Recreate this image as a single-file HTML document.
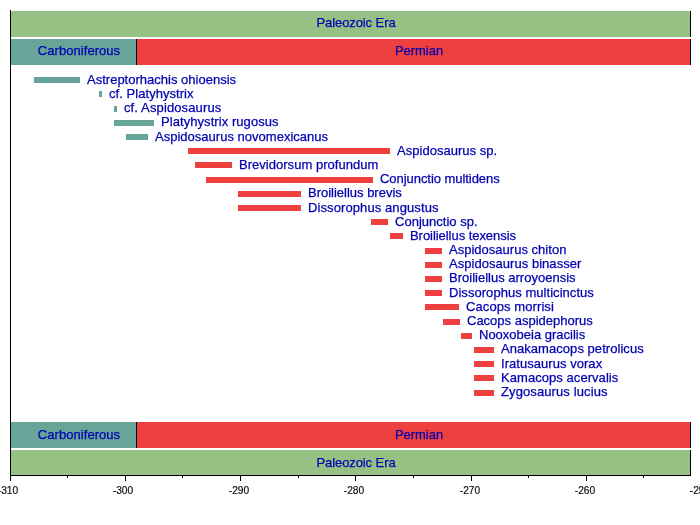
<!DOCTYPE html>
<html><head><meta charset="utf-8"><title>Timeline</title>
<style>
html,body{margin:0;padding:0;background:#fff;}
body{width:700px;height:525px;position:relative;overflow:hidden;font-family:"Liberation Sans",sans-serif;}
.b{position:absolute;}
.t{position:absolute;white-space:nowrap;font-size:13px;line-height:15px;color:#0000B2;letter-spacing:0.05px;will-change:transform;-webkit-text-stroke:0.25px #0000B2;}
.a{position:absolute;white-space:nowrap;font-size:10.2px;line-height:12px;color:#111;will-change:transform;-webkit-text-stroke:0.2px #111;}
.k{position:absolute;background:#000;}
</style></head><body>
<div class="b" style="left:11px;top:11px;width:679px;height:26px;background:#97C085"></div>
<div class="k" style="left:690px;top:11px;width:1px;height:26px"></div>
<div class="b" style="left:11px;top:450px;width:679px;height:25px;background:#97C085"></div>
<div class="k" style="left:690px;top:450px;width:1px;height:25px"></div>
<div class="b" style="left:11px;top:39px;width:125px;height:26px;background:#67A599"></div>
<div class="b" style="left:137px;top:39px;width:553px;height:26px;background:#EE403E"></div>
<div class="k" style="left:136px;top:39px;width:1px;height:26px"></div>
<div class="k" style="left:690px;top:39px;width:1px;height:26px"></div>
<div class="b" style="left:11px;top:422px;width:125px;height:26px;background:#67A599"></div>
<div class="b" style="left:137px;top:422px;width:553px;height:26px;background:#EE403E"></div>
<div class="k" style="left:136px;top:422px;width:1px;height:26px"></div>
<div class="k" style="left:690px;top:422px;width:1px;height:26px"></div>
<div class="t" style="left:355.5px;top:15px;width:0;letter-spacing:-0.09px"><span style="position:absolute;left:0;transform:translateX(-50%)">Paleozoic Era</span></div>
<div class="t" style="left:78.9px;top:43px;width:0;letter-spacing:0.05px"><span style="position:absolute;left:0;transform:translateX(-50%)">Carboniferous</span></div>
<div class="t" style="left:419.3px;top:43px;width:0;letter-spacing:-0.03px"><span style="position:absolute;left:0;transform:translateX(-50%)">Permian</span></div>
<div class="t" style="left:78.9px;top:427px;width:0;letter-spacing:0.05px"><span style="position:absolute;left:0;transform:translateX(-50%)">Carboniferous</span></div>
<div class="t" style="left:419.3px;top:427px;width:0;letter-spacing:-0.03px"><span style="position:absolute;left:0;transform:translateX(-50%)">Permian</span></div>
<div class="t" style="left:355.5px;top:455px;width:0;letter-spacing:-0.09px"><span style="position:absolute;left:0;transform:translateX(-50%)">Paleozoic Era</span></div>
<div class="b" style="left:34px;top:77px;width:46px;height:6px;background:#67A599"></div>
<div class="t" style="left:87px;top:72px;letter-spacing:0.008px">Astreptorhachis ohioensis</div>
<div class="b" style="left:99px;top:91px;width:3px;height:6px;background:#67A599"></div>
<div class="t" style="left:109px;top:86px;letter-spacing:0.050px">cf. Platyhystrix</div>
<div class="b" style="left:114px;top:106px;width:3px;height:6px;background:#67A599"></div>
<div class="t" style="left:124px;top:100px;letter-spacing:0.123px">cf. Aspidosaurus</div>
<div class="b" style="left:114px;top:120px;width:40px;height:6px;background:#67A599"></div>
<div class="t" style="left:161px;top:114px;letter-spacing:0.066px">Platyhystrix rugosus</div>
<div class="b" style="left:126px;top:134px;width:22px;height:6px;background:#67A599"></div>
<div class="t" style="left:155px;top:129px;letter-spacing:0.014px">Aspidosaurus novomexicanus</div>
<div class="b" style="left:188px;top:148px;width:202px;height:6px;background:#EE403E"></div>
<div class="t" style="left:397px;top:143px;letter-spacing:0.030px">Aspidosaurus sp.</div>
<div class="b" style="left:195px;top:162px;width:37px;height:6px;background:#EE403E"></div>
<div class="t" style="left:239px;top:157px;letter-spacing:0.025px">Brevidorsum profundum</div>
<div class="b" style="left:206px;top:177px;width:167px;height:6px;background:#EE403E"></div>
<div class="t" style="left:380px;top:171px;letter-spacing:-0.050px">Conjunctio multidens</div>
<div class="b" style="left:238px;top:191px;width:63px;height:6px;background:#EE403E"></div>
<div class="t" style="left:308px;top:185px;letter-spacing:-0.009px">Broiliellus brevis</div>
<div class="b" style="left:238px;top:205px;width:63px;height:6px;background:#EE403E"></div>
<div class="t" style="left:308px;top:200px;letter-spacing:0.097px">Dissorophus angustus</div>
<div class="b" style="left:371px;top:219px;width:17px;height:6px;background:#EE403E"></div>
<div class="t" style="left:395px;top:214px;letter-spacing:0.019px">Conjunctio sp.</div>
<div class="b" style="left:390px;top:233px;width:13px;height:6px;background:#EE403E"></div>
<div class="t" style="left:410px;top:228px;letter-spacing:-0.050px">Broiliellus texensis</div>
<div class="b" style="left:425px;top:248px;width:17px;height:6px;background:#EE403E"></div>
<div class="t" style="left:449px;top:242px;letter-spacing:0.017px">Aspidosaurus chiton</div>
<div class="b" style="left:425px;top:262px;width:17px;height:6px;background:#EE403E"></div>
<div class="t" style="left:449px;top:256px;letter-spacing:0.040px">Aspidosaurus binasser</div>
<div class="b" style="left:425px;top:276px;width:17px;height:6px;background:#EE403E"></div>
<div class="t" style="left:449px;top:270px;letter-spacing:0.005px">Broiliellus arroyoensis</div>
<div class="b" style="left:425px;top:290px;width:17px;height:6px;background:#EE403E"></div>
<div class="t" style="left:449px;top:285px;letter-spacing:0.046px">Dissorophus multicinctus</div>
<div class="b" style="left:425px;top:304px;width:34px;height:6px;background:#EE403E"></div>
<div class="t" style="left:466px;top:299px;letter-spacing:0.088px">Cacops morrisi</div>
<div class="b" style="left:443px;top:319px;width:17px;height:6px;background:#EE403E"></div>
<div class="t" style="left:467px;top:313px;letter-spacing:0.000px">Cacops aspidephorus</div>
<div class="b" style="left:461px;top:333px;width:11px;height:6px;background:#EE403E"></div>
<div class="t" style="left:479px;top:327px;letter-spacing:-0.003px">Nooxobeia gracilis</div>
<div class="b" style="left:474px;top:347px;width:20px;height:6px;background:#EE403E"></div>
<div class="t" style="left:501px;top:341px;letter-spacing:0.050px">Anakamacops petrolicus</div>
<div class="b" style="left:474px;top:361px;width:20px;height:6px;background:#EE403E"></div>
<div class="t" style="left:501px;top:356px;letter-spacing:0.044px">Iratusaurus vorax</div>
<div class="b" style="left:474px;top:375px;width:20px;height:6px;background:#EE403E"></div>
<div class="t" style="left:501px;top:370px;letter-spacing:0.056px">Kamacops acervalis</div>
<div class="b" style="left:474px;top:390px;width:20px;height:6px;background:#EE403E"></div>
<div class="t" style="left:501px;top:384px;letter-spacing:0.106px">Zygosaurus lucius</div>
<div class="k" style="left:10px;top:10px;width:1px;height:466px"></div>
<div class="k" style="left:10px;top:475px;width:681px;height:1px"></div>
<div class="k" style="left:10px;top:476px;width:1px;height:5px"></div>
<div class="k" style="left:67px;top:476px;width:1px;height:2px"></div>
<div class="k" style="left:125px;top:476px;width:1px;height:5px"></div>
<div class="k" style="left:182px;top:476px;width:1px;height:2px"></div>
<div class="k" style="left:240px;top:476px;width:1px;height:5px"></div>
<div class="k" style="left:298px;top:476px;width:1px;height:2px"></div>
<div class="k" style="left:355px;top:476px;width:1px;height:5px"></div>
<div class="k" style="left:413px;top:476px;width:1px;height:2px"></div>
<div class="k" style="left:471px;top:476px;width:1px;height:5px"></div>
<div class="k" style="left:528px;top:476px;width:1px;height:2px"></div>
<div class="k" style="left:586px;top:476px;width:1px;height:5px"></div>
<div class="k" style="left:643px;top:476px;width:1px;height:2px"></div>
<div class="a" style="left:8.2px;top:485px;width:0"><span style="position:absolute;left:0;transform:translateX(-50%)">-310</span></div>
<div class="a" style="left:123.4px;top:485px;width:0"><span style="position:absolute;left:0;transform:translateX(-50%)">-300</span></div>
<div class="a" style="left:238.9px;top:485px;width:0"><span style="position:absolute;left:0;transform:translateX(-50%)">-290</span></div>
<div class="a" style="left:353.7px;top:485px;width:0"><span style="position:absolute;left:0;transform:translateX(-50%)">-280</span></div>
<div class="a" style="left:470.1px;top:485px;width:0"><span style="position:absolute;left:0;transform:translateX(-50%)">-270</span></div>
<div class="a" style="left:584.9px;top:485px;width:0"><span style="position:absolute;left:0;transform:translateX(-50%)">-260</span></div>
<div class="a" style="left:699.6px;top:485px;width:0"><span style="position:absolute;left:0;transform:translateX(-50%)">-250</span></div>
</body></html>
